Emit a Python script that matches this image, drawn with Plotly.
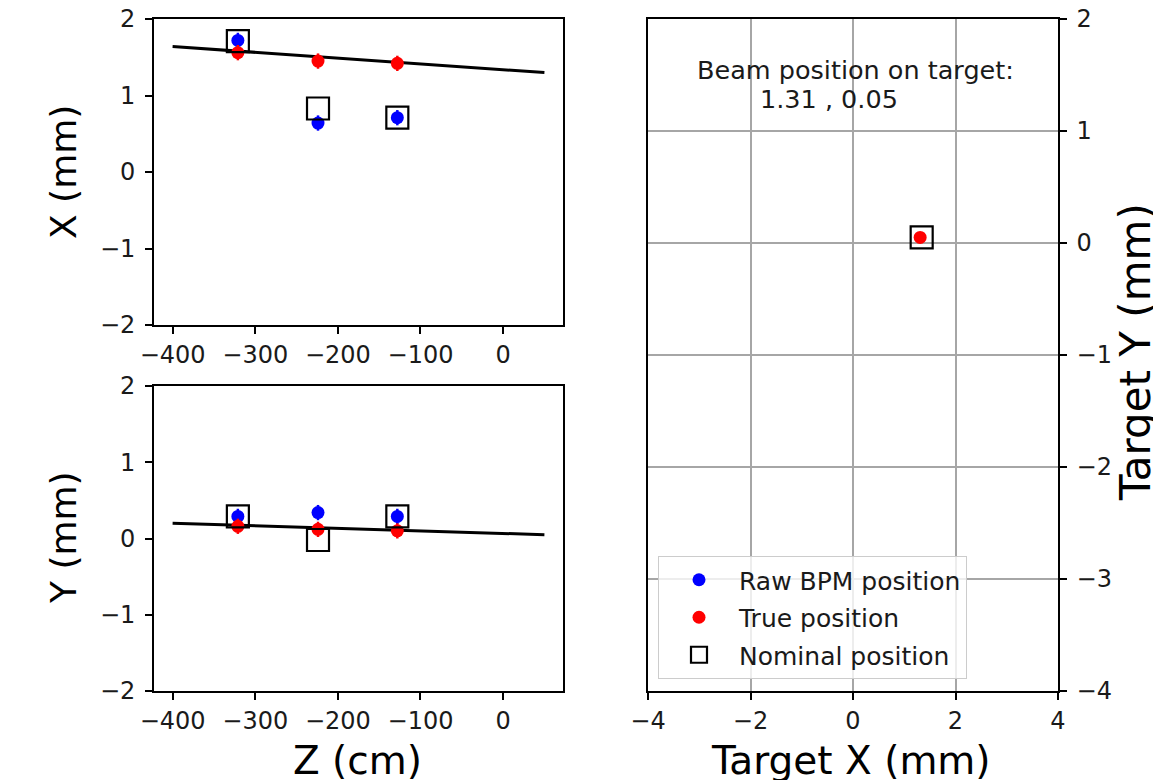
import plotly.graph_objects as go

# BPM positions along the beamline (cm)
z_bpm = [-321, -224, -128]

# Horizontal positions (mm)
raw_x = [1.72, 0.64, 0.71]
true_x = [1.56, 1.45, 1.42]
nom_x = [1.71, 0.83, 0.71]

# Vertical positions (mm)
raw_y = [0.29, 0.34, 0.29]
true_y = [0.16, 0.12, 0.10]
nom_y = [0.29, -0.02, 0.29]

# Measurement uncertainties (mm)
raw_err = [0.1, 0.1, 0.1]
true_err = [0.1, 0.1, 0.1]

# Straight-line fit through the corrected positions
fit_z = [-400, 50]
fit_x = [1.64, 1.30]
fit_y = [0.20, 0.05]

# Extrapolated beam position at the target (mm)
target_true = [1.31, 0.05]
target_nom = [1.34, 0.05]

# Tick positions
z_ticks = [-400, -300, -200, -100, 0]
pos_ticks = [-2, -1, 0, 1, 2]
tx_ticks = [-4, -2, 0, 2, 4]
ty_ticks = [-4, -3, -2, -1, 0, 1, 2]

W, H = 1153, 780
FONT = "DejaVu Sans"
BLUE = "#0000ff"
RED = "#ff0000"


def px(x):
    return x / W


def py(y):
    return 1 - y / H


fig = go.Figure()


def add_panel(xa, ya, vals_raw, vals_true, vals_nom, vals_fit, show):
    fig.add_trace(go.Scatter(x=fit_z, y=vals_fit, mode="lines",
                             line=dict(color="black", width=3),
                             xaxis=xa, yaxis=ya, showlegend=False))
    fig.add_trace(go.Scatter(x=z_bpm, y=vals_raw, mode="markers",
                             marker=dict(color=BLUE, size=13),
                             error_y=dict(type="data", array=raw_err, color=BLUE,
                                          thickness=2.5, width=0),
                             name="Raw BPM position", legendgroup="raw",
                             xaxis=xa, yaxis=ya, showlegend=show))
    fig.add_trace(go.Scatter(x=z_bpm, y=vals_true, mode="markers",
                             marker=dict(color=RED, size=13),
                             error_y=dict(type="data", array=true_err, color=RED,
                                          thickness=2.5, width=0),
                             name="True position", legendgroup="true",
                             xaxis=xa, yaxis=ya, showlegend=show))
    fig.add_trace(go.Scatter(x=z_bpm, y=vals_nom, mode="markers",
                             marker=dict(symbol="square-open", color="black", size=22,
                                         line=dict(width=2.2, color="black")),
                             name="Nominal position", legendgroup="nom",
                             xaxis=xa, yaxis=ya, showlegend=show))


add_panel("x", "y", raw_x, true_x, nom_x, fit_x, True)
add_panel("x2", "y2", raw_y, true_y, nom_y, fit_y, False)

# Beam spot on the target plane
fig.add_trace(go.Scatter(x=[target_true[0]], y=[target_true[1]], mode="markers",
                         marker=dict(color=RED, size=13),
                         xaxis="x3", yaxis="y3", showlegend=False))
fig.add_trace(go.Scatter(x=[target_nom[0]], y=[target_nom[1]], mode="markers",
                         marker=dict(symbol="square-open", color="black", size=22,
                                     line=dict(width=2.2, color="black")),
                         xaxis="x3", yaxis="y3", showlegend=False))

tickfont = dict(family=FONT, size=24, color="#1a1a1a")
axis_common = dict(showline=True, mirror=True, linecolor="black", linewidth=1.6,
                   ticks="outside", ticklen=7, tickwidth=1.6, tickcolor="black",
                   tickfont=tickfont, showgrid=False, zeroline=False,
                   automargin=False, tickmode="array")
grid_axis = {**axis_common, "showgrid": True, "gridcolor": "#a6a6a6", "gridwidth": 1.5}

left_dom = [px(154), px(563)]
fig.update_layout(
    xaxis=dict(domain=left_dom, range=[-422.5, 72.5], anchor="y",
               tickvals=z_ticks, **axis_common),
    yaxis=dict(domain=[py(325), py(19)], range=[-2, 2], anchor="x",
               tickvals=pos_ticks, ticklabelstandoff=5, **axis_common),
    xaxis2=dict(domain=left_dom, range=[-422.5, 72.5], anchor="y2",
                tickvals=z_ticks, **axis_common),
    yaxis2=dict(domain=[py(691), py(386)], range=[-2, 2], anchor="x2",
                tickvals=pos_ticks, ticklabelstandoff=5, **axis_common),
    xaxis3=dict(domain=[px(648), px(1058)], range=[-4, 4], anchor="y3",
                tickvals=tx_ticks, **grid_axis),
    yaxis3=dict(domain=[py(691), py(19)], range=[-4, 2], anchor="x3", side="right",
                tickvals=ty_ticks, ticklabelstandoff=5, **grid_axis),
    width=W, height=H,
    margin=dict(l=0, r=0, t=0, b=0),
    paper_bgcolor="white", plot_bgcolor="white",
    font=dict(family=FONT, color="#1a1a1a"),
    showlegend=True,
    legend=dict(x=px(658), y=py(556), xanchor="left", yanchor="top",
                bgcolor="rgba(255,255,255,0.8)", bordercolor="#cccccc", borderwidth=1,
                font=dict(family=FONT, size=25, color="#1a1a1a"),
                itemwidth=70, tracegroupgap=2),
)

rot_font = dict(family=FONT, size=36, color="black")
hor_font = dict(family=FONT, size=39, color="black")
note_font = dict(family=FONT, size=25.5, color="#1a1a1a")
annotations = [
    dict(text="X (mm)", x=px(63), y=py(172), textangle=-90, font=rot_font),
    dict(text="Y (mm)", x=px(63), y=py(538), textangle=-90, font=rot_font),
    dict(text="Z (cm)", x=px(357), y=py(760), font=hor_font),
    dict(text="Target X (mm)", x=px(851), y=py(760), font=hor_font),
    dict(text="Target Y (mm)", x=px(1136), y=py(352), textangle=-90,
         font=dict(family=FONT, size=42, color="black")),
    dict(text="Beam position on target:", x=px(855), y=py(70), font=note_font),
    dict(text=f"{target_true[0]:.2f} , {target_true[1]:.2f}", x=px(829), y=py(99),
         font=note_font),
]
for a in annotations:
    a.update(xref="paper", yref="paper", xanchor="center", yanchor="middle",
             showarrow=False)
fig.update_layout(annotations=annotations)

fig.write_html("out.html")
